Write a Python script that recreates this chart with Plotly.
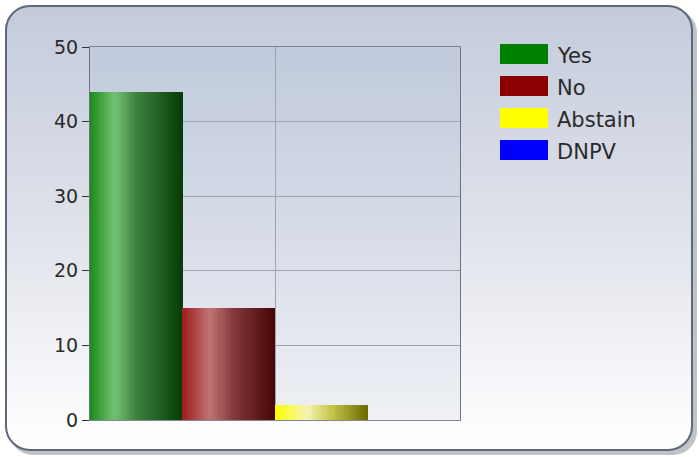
import base64
import numpy as np
import plotly.graph_objects as go

# ---- data ----
categories = ["Yes", "No", "Abstain", "DNPV"]
values = [44, 15, 2, 0]
y_ticks = [0, 10, 20, 30, 40, 50]

# ---- styles ----
legend_colors = ["#008000", "#8b0000", "#ffff00", "#0000ff"]
gradient_stops = {
    "Yes": [(0.0, "#1a8a1a"), (0.27, "#72c272"), (0.5, "#3f823f"), (1.0, "#063c06")],
    "No": [(0.0, "#9c1e1e"), (0.3, "#c27474"), (0.55, "#84393b"), (1.0, "#450606")],
    "Abstain": [(0.0, "#ffff00"), (0.35, "#f4f4b4"), (0.6, "#c9c94e"), (1.0, "#6a6a00")],
    "DNPV": [(0.0, "#0000ff"), (0.3, "#7070ff"), (1.0, "#000060")],
}

W, H = 699, 457
PX0, PX1, PY0, PY1 = 90, 460, 47, 420  # plot area in pixels
FONT = "DejaVu Sans, Verdana, sans-serif"


def hex2rgb(h):
    h = h.lstrip("#")
    return np.array([int(h[i:i + 2], 16) for i in (0, 2, 4)], dtype=float)


def grad(stops, t):
    for (t0, c0), (t1, c1) in zip(stops[:-1], stops[1:]):
        if t0 <= t <= t1:
            f = (t - t0) / (t1 - t0)
            c = hex2rgb(c0) * (1 - f) + hex2rgb(c1) * f
            return "rgb(%d,%d,%d)" % tuple(int(round(v)) for v in c)
    return stops[-1][1]


svg = f"""<svg xmlns='http://www.w3.org/2000/svg' width='{W}' height='{H}' viewBox='0 0 {W} {H}' preserveAspectRatio='none'>
<defs>
<linearGradient id='pg' x1='0' y1='0' x2='0' y2='1'>
<stop offset='0' stop-color='#c3cbdb'/><stop offset='0.5' stop-color='#dfe2ea'/><stop offset='0.92' stop-color='#fbfbfd'/><stop offset='1' stop-color='#ffffff'/>
</linearGradient>
<linearGradient id='ag' x1='0' y1='0' x2='0' y2='1'>
<stop offset='0' stop-color='#c0cadc'/><stop offset='0.5' stop-color='#d7dce8'/><stop offset='1' stop-color='#eff1f5'/>
</linearGradient>
</defs>
<rect x='0' y='0' width='{W}' height='{H}' fill='#ffffff'/>
<rect x='9' y='9' width='688' height='446' rx='24' ry='24' fill='#8a8f99' opacity='0.55'/>
<rect x='6' y='6' width='686' height='444' rx='24' ry='24' fill='url(#pg)' stroke='#5f6778' stroke-width='2'/>
<rect x='{PX0}' y='{PY0}' width='{PX1-PX0}' height='{PY1-PY0}' fill='url(#ag)'/>
</svg>"""
svg_uri = "data:image/svg+xml;base64," + base64.b64encode(svg.encode()).decode()

fig = go.Figure()

N = 40
for i, (cat, val) in enumerate(zip(categories, values)):
    stops = gradient_stops[cat]
    xs = [i + (k + 0.5) / N for k in range(N)]
    cols = [grad(stops, (k + 0.5) / N) for k in range(N)]
    fig.add_trace(go.Bar(
        x=xs, y=[val] * N, width=1.0 / N * 1.15,
        marker=dict(color=cols, line=dict(width=0)),
        showlegend=False, hoverinfo="skip", name=cat,
    ))

fig.update_layout(
    width=W, height=H,
    margin=dict(l=0, r=0, t=0, b=0, pad=0),
    paper_bgcolor="white",
    plot_bgcolor="rgba(0,0,0,0)",
    barmode="overlay",
    bargap=0,
    showlegend=False,
    font=dict(family=FONT, color="#2a2a2a"),
    images=[dict(source=svg_uri, xref="paper", yref="paper", x=0, y=1,
                 sizex=1, sizey=1, xanchor="left", yanchor="top",
                 sizing="stretch", layer="below")],
    xaxis=dict(
        domain=[PX0 / W, PX1 / W],
        range=[0, len(categories)],
        tickvals=[len(categories) / 2],
        showticklabels=False, ticks="",
        showgrid=True, gridcolor="#9ea4ae", gridwidth=1,
        showline=True, linecolor="#80858f", linewidth=1, mirror=True,
        zeroline=False, fixedrange=True, automargin=False,
    ),
    yaxis=dict(
        domain=[1 - PY1 / H, 1 - PY0 / H],
        range=[0, 50],
        tickvals=y_ticks,
        ticks="outside", ticklen=7, tickcolor="#333333",
        tickfont=dict(family=FONT, size=19, color="#2a2a2a"),
        showgrid=True, gridcolor="#9ea4ae", gridwidth=1,
        showline=True, linecolor="#6e737c", linewidth=1, mirror=True,
        zeroline=False, fixedrange=True, automargin=False,
    ),
)

# custom legend (wide colour swatches as in the original)
for j, (cat, col) in enumerate(zip(categories, legend_colors)):
    y_top = 44 + 32 * j
    fig.add_shape(type="rect", xref="paper", yref="paper",
                  x0=500 / W, x1=548 / W, y0=1 - (y_top + 20) / H, y1=1 - y_top / H,
                  fillcolor=col, line=dict(width=0))
    fig.add_annotation(xref="paper", yref="paper", x=555 / W, y=1 - (y_top + 12) / H,
                       text=cat, showarrow=False, xanchor="left", yanchor="middle",
                       font=dict(family=FONT, size=21, color="#2a2a2a"))

fig.write_html(
    "out.html",
    config={"displayModeBar": False},
    post_script="document.body.style.margin='0';document.body.style.overflow='hidden';",
)
